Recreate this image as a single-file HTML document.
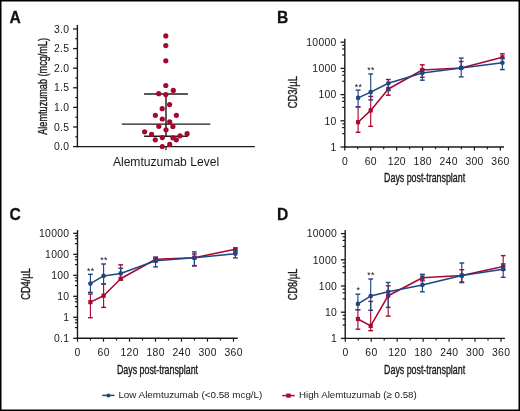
<!DOCTYPE html>
<html><head><meta charset="utf-8"><style>html,body{margin:0;padding:0;background:#fff;overflow:hidden}svg{display:block;will-change:transform}text{font-family:"Liberation Sans",sans-serif}</style></head>
<body><svg width="520" height="411" viewBox="0 0 520 411" font-family="Liberation Sans, sans-serif"><rect x="0" y="0" width="520" height="411" fill="#000"/>
<rect x="1.5" y="1.5" width="517" height="408" fill="#fff"/>
<text transform="translate(9.60,22.70) scale(0.95,1)" font-size="16.5" font-weight="700" text-anchor="start" fill="#111" stroke="#111" stroke-width="0.25">A</text>
<line x1="77.40" y1="25.00" x2="77.40" y2="147.25" stroke="#1a1a1a" stroke-width="1.4"/>
<line x1="73.10" y1="146.60" x2="77.40" y2="146.60" stroke="#1a1a1a" stroke-width="1.3"/>
<text transform="translate(69.30,150.30)" font-size="10.4" font-weight="400" text-anchor="end" fill="#1a1a1a" letter-spacing="0.3">0.0</text>
<line x1="75.20" y1="136.79" x2="77.40" y2="136.79" stroke="#1a1a1a" stroke-width="1.1"/>
<line x1="73.10" y1="126.99" x2="77.40" y2="126.99" stroke="#1a1a1a" stroke-width="1.3"/>
<text transform="translate(69.30,130.69)" font-size="10.4" font-weight="400" text-anchor="end" fill="#1a1a1a" letter-spacing="0.3">0.5</text>
<line x1="75.20" y1="117.19" x2="77.40" y2="117.19" stroke="#1a1a1a" stroke-width="1.1"/>
<line x1="73.10" y1="107.38" x2="77.40" y2="107.38" stroke="#1a1a1a" stroke-width="1.3"/>
<text transform="translate(69.30,111.08)" font-size="10.4" font-weight="400" text-anchor="end" fill="#1a1a1a" letter-spacing="0.3">1.0</text>
<line x1="75.20" y1="97.57" x2="77.40" y2="97.57" stroke="#1a1a1a" stroke-width="1.1"/>
<line x1="73.10" y1="87.77" x2="77.40" y2="87.77" stroke="#1a1a1a" stroke-width="1.3"/>
<text transform="translate(69.30,91.47)" font-size="10.4" font-weight="400" text-anchor="end" fill="#1a1a1a" letter-spacing="0.3">1.5</text>
<line x1="75.20" y1="77.97" x2="77.40" y2="77.97" stroke="#1a1a1a" stroke-width="1.1"/>
<line x1="73.10" y1="68.16" x2="77.40" y2="68.16" stroke="#1a1a1a" stroke-width="1.3"/>
<text transform="translate(69.30,71.86)" font-size="10.4" font-weight="400" text-anchor="end" fill="#1a1a1a" letter-spacing="0.3">2.0</text>
<line x1="75.20" y1="58.35" x2="77.40" y2="58.35" stroke="#1a1a1a" stroke-width="1.1"/>
<line x1="73.10" y1="48.55" x2="77.40" y2="48.55" stroke="#1a1a1a" stroke-width="1.3"/>
<text transform="translate(69.30,52.25)" font-size="10.4" font-weight="400" text-anchor="end" fill="#1a1a1a" letter-spacing="0.3">2.5</text>
<line x1="75.20" y1="38.75" x2="77.40" y2="38.75" stroke="#1a1a1a" stroke-width="1.1"/>
<line x1="73.10" y1="28.94" x2="77.40" y2="28.94" stroke="#1a1a1a" stroke-width="1.3"/>
<text transform="translate(69.30,32.64)" font-size="10.4" font-weight="400" text-anchor="end" fill="#1a1a1a" letter-spacing="0.3">3.0</text>
<line x1="76.70" y1="146.60" x2="254.80" y2="146.60" stroke="#1a1a1a" stroke-width="1.4"/>
<line x1="166.00" y1="146.60" x2="166.00" y2="150.20" stroke="#1a1a1a" stroke-width="1.2"/>
<text transform="translate(46.60,86.35) rotate(-90) scale(0.748,1)" font-size="12.2" font-weight="400" text-anchor="middle" fill="#1a1a1a" stroke="#1a1a1a" stroke-width="0.36">Alemtuzumab (mcg/mL)</text>
<text transform="translate(166.00,166.40)" font-size="12.1" font-weight="400" text-anchor="middle" fill="#1a1a1a">Alemtuzumab Level</text>
<line x1="166.00" y1="93.90" x2="166.00" y2="136.20" stroke="#1e1e1e" stroke-width="1.45"/>
<line x1="144.10" y1="93.90" x2="187.90" y2="93.90" stroke="#1e1e1e" stroke-width="1.45"/>
<line x1="144.10" y1="136.20" x2="187.90" y2="136.20" stroke="#1e1e1e" stroke-width="1.45"/>
<line x1="121.80" y1="124.10" x2="210.30" y2="124.10" stroke="#1a1a1a" stroke-width="1.45"/>
<circle cx="165.80" cy="35.90" r="2.6" fill="#a5082d"/>
<circle cx="165.80" cy="45.60" r="2.6" fill="#a5082d"/>
<circle cx="165.80" cy="60.80" r="2.6" fill="#a5082d"/>
<circle cx="165.80" cy="85.50" r="2.6" fill="#a5082d"/>
<circle cx="173.30" cy="90.40" r="2.6" fill="#a5082d"/>
<circle cx="158.70" cy="93.70" r="2.6" fill="#a5082d"/>
<circle cx="165.80" cy="94.60" r="2.6" fill="#a5082d"/>
<circle cx="169.60" cy="104.60" r="2.6" fill="#a5082d"/>
<circle cx="162.20" cy="108.70" r="2.6" fill="#a5082d"/>
<circle cx="155.40" cy="115.30" r="2.6" fill="#a5082d"/>
<circle cx="176.40" cy="115.30" r="2.6" fill="#a5082d"/>
<circle cx="162.30" cy="119.00" r="2.6" fill="#a5082d"/>
<circle cx="169.70" cy="121.90" r="2.6" fill="#a5082d"/>
<circle cx="158.80" cy="126.30" r="2.6" fill="#a5082d"/>
<circle cx="172.90" cy="126.50" r="2.6" fill="#a5082d"/>
<circle cx="166.00" cy="129.80" r="2.6" fill="#a5082d"/>
<circle cx="144.60" cy="131.80" r="2.6" fill="#a5082d"/>
<circle cx="151.60" cy="134.40" r="2.6" fill="#a5082d"/>
<circle cx="187.10" cy="133.70" r="2.6" fill="#a5082d"/>
<circle cx="180.10" cy="135.80" r="2.6" fill="#a5082d"/>
<circle cx="162.30" cy="137.60" r="2.6" fill="#a5082d"/>
<circle cx="172.90" cy="137.80" r="2.6" fill="#a5082d"/>
<circle cx="155.30" cy="139.80" r="2.6" fill="#a5082d"/>
<circle cx="176.30" cy="139.80" r="2.6" fill="#a5082d"/>
<circle cx="169.70" cy="144.40" r="2.6" fill="#a5082d"/>
<circle cx="162.30" cy="146.50" r="2.6" fill="#a5082d"/>
<text transform="translate(277.10,22.70) scale(0.95,1)" font-size="16.5" font-weight="700" text-anchor="start" fill="#111" stroke="#111" stroke-width="0.25">B</text>
<line x1="344.80" y1="38.70" x2="344.80" y2="147.65" stroke="#1a1a1a" stroke-width="1.4"/>
<line x1="340.50" y1="147.00" x2="344.80" y2="147.00" stroke="#1a1a1a" stroke-width="1.3"/>
<text transform="translate(336.70,150.70)" font-size="10.4" font-weight="400" text-anchor="end" fill="#1a1a1a" letter-spacing="0.3">1</text>
<line x1="340.50" y1="120.80" x2="344.80" y2="120.80" stroke="#1a1a1a" stroke-width="1.3"/>
<text transform="translate(336.70,124.50)" font-size="10.4" font-weight="400" text-anchor="end" fill="#1a1a1a" letter-spacing="0.3">10</text>
<line x1="342.20" y1="123.94" x2="344.80" y2="123.94" stroke="#1a1a1a" stroke-width="1.2"/>
<line x1="342.20" y1="127.61" x2="344.80" y2="127.61" stroke="#1a1a1a" stroke-width="1.2"/>
<line x1="342.20" y1="133.64" x2="344.80" y2="133.64" stroke="#1a1a1a" stroke-width="1.2"/>
<line x1="340.50" y1="94.60" x2="344.80" y2="94.60" stroke="#1a1a1a" stroke-width="1.3"/>
<text transform="translate(336.70,98.30)" font-size="10.4" font-weight="400" text-anchor="end" fill="#1a1a1a" letter-spacing="0.3">100</text>
<line x1="342.20" y1="97.74" x2="344.80" y2="97.74" stroke="#1a1a1a" stroke-width="1.2"/>
<line x1="342.20" y1="101.41" x2="344.80" y2="101.41" stroke="#1a1a1a" stroke-width="1.2"/>
<line x1="342.20" y1="107.44" x2="344.80" y2="107.44" stroke="#1a1a1a" stroke-width="1.2"/>
<line x1="340.50" y1="68.40" x2="344.80" y2="68.40" stroke="#1a1a1a" stroke-width="1.3"/>
<text transform="translate(336.70,72.10)" font-size="10.4" font-weight="400" text-anchor="end" fill="#1a1a1a" letter-spacing="0.3">1000</text>
<line x1="342.20" y1="71.54" x2="344.80" y2="71.54" stroke="#1a1a1a" stroke-width="1.2"/>
<line x1="342.20" y1="75.21" x2="344.80" y2="75.21" stroke="#1a1a1a" stroke-width="1.2"/>
<line x1="342.20" y1="81.24" x2="344.80" y2="81.24" stroke="#1a1a1a" stroke-width="1.2"/>
<line x1="340.50" y1="42.20" x2="344.80" y2="42.20" stroke="#1a1a1a" stroke-width="1.3"/>
<text transform="translate(336.70,45.90)" font-size="10.4" font-weight="400" text-anchor="end" fill="#1a1a1a" letter-spacing="0.3">10000</text>
<line x1="342.20" y1="45.34" x2="344.80" y2="45.34" stroke="#1a1a1a" stroke-width="1.2"/>
<line x1="342.20" y1="49.01" x2="344.80" y2="49.01" stroke="#1a1a1a" stroke-width="1.2"/>
<line x1="342.20" y1="55.04" x2="344.80" y2="55.04" stroke="#1a1a1a" stroke-width="1.2"/>
<line x1="344.10" y1="147.00" x2="504.00" y2="147.00" stroke="#1a1a1a" stroke-width="1.4"/>
<line x1="344.80" y1="147.00" x2="344.80" y2="150.40" stroke="#1a1a1a" stroke-width="1.2"/>
<text transform="translate(344.95,164.50)" font-size="10.4" font-weight="400" text-anchor="middle" fill="#1a1a1a" letter-spacing="0.3">0</text>
<line x1="357.76" y1="147.00" x2="357.76" y2="149.20" stroke="#1a1a1a" stroke-width="1.2"/>
<line x1="370.72" y1="147.00" x2="370.72" y2="150.40" stroke="#1a1a1a" stroke-width="1.2"/>
<text transform="translate(370.87,164.50)" font-size="10.4" font-weight="400" text-anchor="middle" fill="#1a1a1a" letter-spacing="0.3">60</text>
<line x1="383.68" y1="147.00" x2="383.68" y2="149.20" stroke="#1a1a1a" stroke-width="1.2"/>
<line x1="396.64" y1="147.00" x2="396.64" y2="150.40" stroke="#1a1a1a" stroke-width="1.2"/>
<text transform="translate(396.79,164.50)" font-size="10.4" font-weight="400" text-anchor="middle" fill="#1a1a1a" letter-spacing="0.3">120</text>
<line x1="409.60" y1="147.00" x2="409.60" y2="149.20" stroke="#1a1a1a" stroke-width="1.2"/>
<line x1="422.56" y1="147.00" x2="422.56" y2="150.40" stroke="#1a1a1a" stroke-width="1.2"/>
<text transform="translate(422.71,164.50)" font-size="10.4" font-weight="400" text-anchor="middle" fill="#1a1a1a" letter-spacing="0.3">180</text>
<line x1="435.52" y1="147.00" x2="435.52" y2="149.20" stroke="#1a1a1a" stroke-width="1.2"/>
<line x1="448.48" y1="147.00" x2="448.48" y2="150.40" stroke="#1a1a1a" stroke-width="1.2"/>
<text transform="translate(448.63,164.50)" font-size="10.4" font-weight="400" text-anchor="middle" fill="#1a1a1a" letter-spacing="0.3">240</text>
<line x1="461.44" y1="147.00" x2="461.44" y2="149.20" stroke="#1a1a1a" stroke-width="1.2"/>
<line x1="474.40" y1="147.00" x2="474.40" y2="150.40" stroke="#1a1a1a" stroke-width="1.2"/>
<text transform="translate(474.55,164.50)" font-size="10.4" font-weight="400" text-anchor="middle" fill="#1a1a1a" letter-spacing="0.3">300</text>
<line x1="487.36" y1="147.00" x2="487.36" y2="149.20" stroke="#1a1a1a" stroke-width="1.2"/>
<line x1="500.32" y1="147.00" x2="500.32" y2="150.40" stroke="#1a1a1a" stroke-width="1.2"/>
<text transform="translate(500.47,164.50)" font-size="10.4" font-weight="400" text-anchor="middle" fill="#1a1a1a" letter-spacing="0.3">360</text>
<text transform="translate(296.90,92.20) rotate(-90) scale(0.775,1)" font-size="12.2" font-weight="400" text-anchor="middle" fill="#1a1a1a" stroke="#1a1a1a" stroke-width="0.36">CD3/µL</text>
<text transform="translate(424.60,181.50) scale(0.725,1)" font-size="12.2" font-weight="400" text-anchor="middle" fill="#1a1a1a" stroke="#1a1a1a" stroke-width="0.36">Days post-transplant</text>
<line x1="358.10" y1="106.90" x2="358.10" y2="132.30" stroke="#a90832" stroke-width="1.15"/>
<line x1="355.70" y1="106.90" x2="360.50" y2="106.90" stroke="#a90832" stroke-width="1.4"/>
<line x1="355.70" y1="132.30" x2="360.50" y2="132.30" stroke="#a90832" stroke-width="1.4"/>
<line x1="370.70" y1="96.40" x2="370.70" y2="126.30" stroke="#a90832" stroke-width="1.15"/>
<line x1="368.30" y1="96.40" x2="373.10" y2="96.40" stroke="#a90832" stroke-width="1.4"/>
<line x1="368.30" y1="126.30" x2="373.10" y2="126.30" stroke="#a90832" stroke-width="1.4"/>
<line x1="388.30" y1="79.50" x2="388.30" y2="95.20" stroke="#a90832" stroke-width="1.15"/>
<line x1="385.90" y1="79.50" x2="390.70" y2="79.50" stroke="#a90832" stroke-width="1.4"/>
<line x1="385.90" y1="95.20" x2="390.70" y2="95.20" stroke="#a90832" stroke-width="1.4"/>
<line x1="422.30" y1="64.80" x2="422.30" y2="77.30" stroke="#a90832" stroke-width="1.15"/>
<line x1="419.90" y1="64.80" x2="424.70" y2="64.80" stroke="#a90832" stroke-width="1.4"/>
<line x1="419.90" y1="77.30" x2="424.70" y2="77.30" stroke="#a90832" stroke-width="1.4"/>
<line x1="461.20" y1="61.50" x2="461.20" y2="67.90" stroke="#a90832" stroke-width="1.15"/>
<line x1="458.80" y1="61.50" x2="463.60" y2="61.50" stroke="#a90832" stroke-width="1.4"/>
<line x1="502.40" y1="53.80" x2="502.40" y2="57.30" stroke="#a90832" stroke-width="1.15"/>
<line x1="500.00" y1="53.80" x2="504.80" y2="53.80" stroke="#a90832" stroke-width="1.4"/>
<path d="M358.10,122.20 L370.70,110.40 L388.30,89.00 L422.30,70.00 L461.20,67.90 L502.40,57.30" fill="none" stroke="#a90832" stroke-width="1.55" stroke-linejoin="round"/>
<rect x="356.00" y="120.10" width="4.2" height="4.2" fill="#a90832"/>
<rect x="368.60" y="108.30" width="4.2" height="4.2" fill="#a90832"/>
<rect x="386.20" y="86.90" width="4.2" height="4.2" fill="#a90832"/>
<rect x="420.20" y="67.90" width="4.2" height="4.2" fill="#a90832"/>
<rect x="459.10" y="65.80" width="4.2" height="4.2" fill="#a90832"/>
<rect x="500.30" y="55.20" width="4.2" height="4.2" fill="#a90832"/>
<line x1="358.10" y1="90.10" x2="358.10" y2="106.90" stroke="#1f4682" stroke-width="1.15"/>
<line x1="355.70" y1="90.10" x2="360.50" y2="90.10" stroke="#1f4682" stroke-width="1.4"/>
<line x1="355.70" y1="106.90" x2="360.50" y2="106.90" stroke="#1f4682" stroke-width="1.4"/>
<line x1="370.70" y1="74.00" x2="370.70" y2="99.90" stroke="#1f4682" stroke-width="1.15"/>
<line x1="368.30" y1="74.00" x2="373.10" y2="74.00" stroke="#1f4682" stroke-width="1.4"/>
<line x1="368.30" y1="99.90" x2="373.10" y2="99.90" stroke="#1f4682" stroke-width="1.4"/>
<line x1="388.30" y1="83.30" x2="388.30" y2="90.50" stroke="#1f4682" stroke-width="1.15"/>
<line x1="385.90" y1="90.50" x2="390.70" y2="90.50" stroke="#1f4682" stroke-width="1.4"/>
<line x1="422.30" y1="69.40" x2="422.30" y2="80.20" stroke="#1f4682" stroke-width="1.15"/>
<line x1="419.90" y1="69.40" x2="424.70" y2="69.40" stroke="#1f4682" stroke-width="1.4"/>
<line x1="419.90" y1="80.20" x2="424.70" y2="80.20" stroke="#1f4682" stroke-width="1.4"/>
<line x1="461.20" y1="58.10" x2="461.20" y2="76.90" stroke="#1f4682" stroke-width="1.15"/>
<line x1="458.80" y1="58.10" x2="463.60" y2="58.10" stroke="#1f4682" stroke-width="1.4"/>
<line x1="458.80" y1="76.90" x2="463.60" y2="76.90" stroke="#1f4682" stroke-width="1.4"/>
<line x1="502.40" y1="58.40" x2="502.40" y2="69.60" stroke="#1f4682" stroke-width="1.15"/>
<line x1="500.00" y1="58.40" x2="504.80" y2="58.40" stroke="#1f4682" stroke-width="1.4"/>
<line x1="500.00" y1="69.60" x2="504.80" y2="69.60" stroke="#1f4682" stroke-width="1.4"/>
<path d="M358.10,97.90 L370.70,92.10 L388.30,83.30 L422.30,73.00 L461.20,67.90 L502.40,62.80" fill="none" stroke="#1f4682" stroke-width="1.55" stroke-linejoin="round"/>
<circle cx="358.10" cy="97.90" r="2.3" fill="#1f4682"/>
<circle cx="370.70" cy="92.10" r="2.3" fill="#1f4682"/>
<circle cx="388.30" cy="83.30" r="2.3" fill="#1f4682"/>
<circle cx="422.30" cy="73.00" r="2.3" fill="#1f4682"/>
<circle cx="461.20" cy="67.90" r="2.3" fill="#1f4682"/>
<circle cx="502.40" cy="62.80" r="2.3" fill="#1f4682"/>
<text transform="translate(356.45,89.50)" font-size="8.8" font-weight="400" text-anchor="middle" fill="#111">*</text>
<text transform="translate(360.15,89.50)" font-size="8.8" font-weight="400" text-anchor="middle" fill="#111">*</text>
<text transform="translate(369.05,73.10)" font-size="8.8" font-weight="400" text-anchor="middle" fill="#111">*</text>
<text transform="translate(372.75,73.10)" font-size="8.8" font-weight="400" text-anchor="middle" fill="#111">*</text>
<text transform="translate(9.60,220.20) scale(0.95,1)" font-size="16.5" font-weight="700" text-anchor="start" fill="#111" stroke="#111" stroke-width="0.25">C</text>
<line x1="77.50" y1="230.00" x2="77.50" y2="338.95" stroke="#1a1a1a" stroke-width="1.4"/>
<line x1="73.20" y1="338.30" x2="77.50" y2="338.30" stroke="#1a1a1a" stroke-width="1.3"/>
<text transform="translate(69.40,342.00)" font-size="10.4" font-weight="400" text-anchor="end" fill="#1a1a1a" letter-spacing="0.3">0.1</text>
<line x1="73.20" y1="317.30" x2="77.50" y2="317.30" stroke="#1a1a1a" stroke-width="1.3"/>
<text transform="translate(69.40,321.00)" font-size="10.4" font-weight="400" text-anchor="end" fill="#1a1a1a" letter-spacing="0.3">1</text>
<line x1="74.90" y1="319.82" x2="77.50" y2="319.82" stroke="#1a1a1a" stroke-width="1.2"/>
<line x1="74.90" y1="322.76" x2="77.50" y2="322.76" stroke="#1a1a1a" stroke-width="1.2"/>
<line x1="74.90" y1="327.59" x2="77.50" y2="327.59" stroke="#1a1a1a" stroke-width="1.2"/>
<line x1="73.20" y1="296.30" x2="77.50" y2="296.30" stroke="#1a1a1a" stroke-width="1.3"/>
<text transform="translate(69.40,300.00)" font-size="10.4" font-weight="400" text-anchor="end" fill="#1a1a1a" letter-spacing="0.3">10</text>
<line x1="74.90" y1="298.82" x2="77.50" y2="298.82" stroke="#1a1a1a" stroke-width="1.2"/>
<line x1="74.90" y1="301.76" x2="77.50" y2="301.76" stroke="#1a1a1a" stroke-width="1.2"/>
<line x1="74.90" y1="306.59" x2="77.50" y2="306.59" stroke="#1a1a1a" stroke-width="1.2"/>
<line x1="73.20" y1="275.30" x2="77.50" y2="275.30" stroke="#1a1a1a" stroke-width="1.3"/>
<text transform="translate(69.40,279.00)" font-size="10.4" font-weight="400" text-anchor="end" fill="#1a1a1a" letter-spacing="0.3">100</text>
<line x1="74.90" y1="277.82" x2="77.50" y2="277.82" stroke="#1a1a1a" stroke-width="1.2"/>
<line x1="74.90" y1="280.76" x2="77.50" y2="280.76" stroke="#1a1a1a" stroke-width="1.2"/>
<line x1="74.90" y1="285.59" x2="77.50" y2="285.59" stroke="#1a1a1a" stroke-width="1.2"/>
<line x1="73.20" y1="254.30" x2="77.50" y2="254.30" stroke="#1a1a1a" stroke-width="1.3"/>
<text transform="translate(69.40,258.00)" font-size="10.4" font-weight="400" text-anchor="end" fill="#1a1a1a" letter-spacing="0.3">1000</text>
<line x1="74.90" y1="256.82" x2="77.50" y2="256.82" stroke="#1a1a1a" stroke-width="1.2"/>
<line x1="74.90" y1="259.76" x2="77.50" y2="259.76" stroke="#1a1a1a" stroke-width="1.2"/>
<line x1="74.90" y1="264.59" x2="77.50" y2="264.59" stroke="#1a1a1a" stroke-width="1.2"/>
<line x1="73.20" y1="233.30" x2="77.50" y2="233.30" stroke="#1a1a1a" stroke-width="1.3"/>
<text transform="translate(69.40,237.00)" font-size="10.4" font-weight="400" text-anchor="end" fill="#1a1a1a" letter-spacing="0.3">10000</text>
<line x1="74.90" y1="235.82" x2="77.50" y2="235.82" stroke="#1a1a1a" stroke-width="1.2"/>
<line x1="74.90" y1="238.76" x2="77.50" y2="238.76" stroke="#1a1a1a" stroke-width="1.2"/>
<line x1="74.90" y1="243.59" x2="77.50" y2="243.59" stroke="#1a1a1a" stroke-width="1.2"/>
<line x1="76.80" y1="338.30" x2="237.70" y2="338.30" stroke="#1a1a1a" stroke-width="1.4"/>
<line x1="77.50" y1="338.30" x2="77.50" y2="341.70" stroke="#1a1a1a" stroke-width="1.2"/>
<text transform="translate(77.65,355.90)" font-size="10.4" font-weight="400" text-anchor="middle" fill="#1a1a1a" letter-spacing="0.3">0</text>
<line x1="90.50" y1="338.30" x2="90.50" y2="340.50" stroke="#1a1a1a" stroke-width="1.2"/>
<line x1="103.50" y1="338.30" x2="103.50" y2="341.70" stroke="#1a1a1a" stroke-width="1.2"/>
<text transform="translate(103.65,355.90)" font-size="10.4" font-weight="400" text-anchor="middle" fill="#1a1a1a" letter-spacing="0.3">60</text>
<line x1="116.50" y1="338.30" x2="116.50" y2="340.50" stroke="#1a1a1a" stroke-width="1.2"/>
<line x1="129.50" y1="338.30" x2="129.50" y2="341.70" stroke="#1a1a1a" stroke-width="1.2"/>
<text transform="translate(129.65,355.90)" font-size="10.4" font-weight="400" text-anchor="middle" fill="#1a1a1a" letter-spacing="0.3">120</text>
<line x1="142.50" y1="338.30" x2="142.50" y2="340.50" stroke="#1a1a1a" stroke-width="1.2"/>
<line x1="155.49" y1="338.30" x2="155.49" y2="341.70" stroke="#1a1a1a" stroke-width="1.2"/>
<text transform="translate(155.64,355.90)" font-size="10.4" font-weight="400" text-anchor="middle" fill="#1a1a1a" letter-spacing="0.3">180</text>
<line x1="168.49" y1="338.30" x2="168.49" y2="340.50" stroke="#1a1a1a" stroke-width="1.2"/>
<line x1="181.49" y1="338.30" x2="181.49" y2="341.70" stroke="#1a1a1a" stroke-width="1.2"/>
<text transform="translate(181.64,355.90)" font-size="10.4" font-weight="400" text-anchor="middle" fill="#1a1a1a" letter-spacing="0.3">240</text>
<line x1="194.49" y1="338.30" x2="194.49" y2="340.50" stroke="#1a1a1a" stroke-width="1.2"/>
<line x1="207.49" y1="338.30" x2="207.49" y2="341.70" stroke="#1a1a1a" stroke-width="1.2"/>
<text transform="translate(207.64,355.90)" font-size="10.4" font-weight="400" text-anchor="middle" fill="#1a1a1a" letter-spacing="0.3">300</text>
<line x1="220.49" y1="338.30" x2="220.49" y2="340.50" stroke="#1a1a1a" stroke-width="1.2"/>
<line x1="233.49" y1="338.30" x2="233.49" y2="341.70" stroke="#1a1a1a" stroke-width="1.2"/>
<text transform="translate(233.64,355.90)" font-size="10.4" font-weight="400" text-anchor="middle" fill="#1a1a1a" letter-spacing="0.3">360</text>
<text transform="translate(29.50,284.00) rotate(-90) scale(0.76,1)" font-size="12.2" font-weight="400" text-anchor="middle" fill="#1a1a1a" stroke="#1a1a1a" stroke-width="0.36">CD4/µL</text>
<text transform="translate(157.50,374.40) scale(0.725,1)" font-size="12.2" font-weight="400" text-anchor="middle" fill="#1a1a1a" stroke="#1a1a1a" stroke-width="0.36">Days post-transplant</text>
<line x1="90.40" y1="294.00" x2="90.40" y2="317.70" stroke="#a90832" stroke-width="1.15"/>
<line x1="88.00" y1="294.00" x2="92.80" y2="294.00" stroke="#a90832" stroke-width="1.4"/>
<line x1="88.00" y1="317.70" x2="92.80" y2="317.70" stroke="#a90832" stroke-width="1.4"/>
<line x1="103.60" y1="284.00" x2="103.60" y2="307.40" stroke="#a90832" stroke-width="1.15"/>
<line x1="101.20" y1="284.00" x2="106.00" y2="284.00" stroke="#a90832" stroke-width="1.4"/>
<line x1="101.20" y1="307.40" x2="106.00" y2="307.40" stroke="#a90832" stroke-width="1.4"/>
<line x1="120.70" y1="264.80" x2="120.70" y2="280.00" stroke="#a90832" stroke-width="1.15"/>
<line x1="118.30" y1="264.80" x2="123.10" y2="264.80" stroke="#a90832" stroke-width="1.4"/>
<line x1="118.30" y1="280.00" x2="123.10" y2="280.00" stroke="#a90832" stroke-width="1.4"/>
<line x1="155.60" y1="258.30" x2="155.60" y2="262.00" stroke="#a90832" stroke-width="1.15"/>
<line x1="153.20" y1="258.30" x2="158.00" y2="258.30" stroke="#a90832" stroke-width="1.4"/>
<line x1="153.20" y1="262.00" x2="158.00" y2="262.00" stroke="#a90832" stroke-width="1.4"/>
<line x1="194.40" y1="254.00" x2="194.40" y2="266.00" stroke="#a90832" stroke-width="1.15"/>
<line x1="192.00" y1="254.00" x2="196.80" y2="254.00" stroke="#a90832" stroke-width="1.4"/>
<line x1="192.00" y1="266.00" x2="196.80" y2="266.00" stroke="#a90832" stroke-width="1.4"/>
<line x1="235.40" y1="248.10" x2="235.40" y2="252.00" stroke="#a90832" stroke-width="1.15"/>
<line x1="233.00" y1="248.10" x2="237.80" y2="248.10" stroke="#a90832" stroke-width="1.4"/>
<line x1="233.00" y1="252.00" x2="237.80" y2="252.00" stroke="#a90832" stroke-width="1.4"/>
<path d="M90.40,302.10 L103.60,295.70 L120.70,278.80 L155.60,259.20 L194.40,257.70 L235.40,249.20" fill="none" stroke="#a90832" stroke-width="1.55" stroke-linejoin="round"/>
<rect x="88.30" y="300.00" width="4.2" height="4.2" fill="#a90832"/>
<rect x="101.50" y="293.60" width="4.2" height="4.2" fill="#a90832"/>
<rect x="118.60" y="276.70" width="4.2" height="4.2" fill="#a90832"/>
<rect x="153.50" y="257.10" width="4.2" height="4.2" fill="#a90832"/>
<rect x="192.30" y="255.60" width="4.2" height="4.2" fill="#a90832"/>
<rect x="233.30" y="247.10" width="4.2" height="4.2" fill="#a90832"/>
<line x1="90.40" y1="274.30" x2="90.40" y2="292.40" stroke="#1f4682" stroke-width="1.15"/>
<line x1="88.00" y1="274.30" x2="92.80" y2="274.30" stroke="#1f4682" stroke-width="1.4"/>
<line x1="88.00" y1="292.40" x2="92.80" y2="292.40" stroke="#1f4682" stroke-width="1.4"/>
<line x1="103.60" y1="264.00" x2="103.60" y2="284.00" stroke="#1f4682" stroke-width="1.15"/>
<line x1="101.20" y1="264.00" x2="106.00" y2="264.00" stroke="#1f4682" stroke-width="1.4"/>
<line x1="101.20" y1="284.00" x2="106.00" y2="284.00" stroke="#1f4682" stroke-width="1.4"/>
<line x1="120.70" y1="268.30" x2="120.70" y2="273.40" stroke="#1f4682" stroke-width="1.15"/>
<line x1="118.30" y1="268.30" x2="123.10" y2="268.30" stroke="#1f4682" stroke-width="1.4"/>
<line x1="155.60" y1="257.00" x2="155.60" y2="266.90" stroke="#1f4682" stroke-width="1.15"/>
<line x1="153.20" y1="257.00" x2="158.00" y2="257.00" stroke="#1f4682" stroke-width="1.4"/>
<line x1="153.20" y1="266.90" x2="158.00" y2="266.90" stroke="#1f4682" stroke-width="1.4"/>
<line x1="194.40" y1="251.90" x2="194.40" y2="265.60" stroke="#1f4682" stroke-width="1.15"/>
<line x1="192.00" y1="251.90" x2="196.80" y2="251.90" stroke="#1f4682" stroke-width="1.4"/>
<line x1="192.00" y1="265.60" x2="196.80" y2="265.60" stroke="#1f4682" stroke-width="1.4"/>
<line x1="235.40" y1="250.60" x2="235.40" y2="257.90" stroke="#1f4682" stroke-width="1.15"/>
<line x1="233.00" y1="250.60" x2="237.80" y2="250.60" stroke="#1f4682" stroke-width="1.4"/>
<line x1="233.00" y1="257.90" x2="237.80" y2="257.90" stroke="#1f4682" stroke-width="1.4"/>
<path d="M90.40,283.60 L103.60,275.90 L120.70,273.40 L155.60,260.80 L194.40,257.70 L235.40,253.80" fill="none" stroke="#1f4682" stroke-width="1.55" stroke-linejoin="round"/>
<circle cx="90.40" cy="283.60" r="2.3" fill="#1f4682"/>
<circle cx="103.60" cy="275.90" r="2.3" fill="#1f4682"/>
<circle cx="120.70" cy="273.40" r="2.3" fill="#1f4682"/>
<circle cx="155.60" cy="260.80" r="2.3" fill="#1f4682"/>
<circle cx="194.40" cy="257.70" r="2.3" fill="#1f4682"/>
<circle cx="235.40" cy="253.80" r="2.3" fill="#1f4682"/>
<text transform="translate(88.75,273.60)" font-size="8.8" font-weight="400" text-anchor="middle" fill="#111">*</text>
<text transform="translate(92.45,273.60)" font-size="8.8" font-weight="400" text-anchor="middle" fill="#111">*</text>
<text transform="translate(101.95,263.30)" font-size="8.8" font-weight="400" text-anchor="middle" fill="#111">*</text>
<text transform="translate(105.65,263.30)" font-size="8.8" font-weight="400" text-anchor="middle" fill="#111">*</text>
<text transform="translate(277.10,220.20) scale(0.95,1)" font-size="16.5" font-weight="700" text-anchor="start" fill="#111" stroke="#111" stroke-width="0.25">D</text>
<line x1="345.20" y1="230.00" x2="345.20" y2="339.05" stroke="#1a1a1a" stroke-width="1.4"/>
<line x1="340.90" y1="338.40" x2="345.20" y2="338.40" stroke="#1a1a1a" stroke-width="1.3"/>
<text transform="translate(337.10,342.10)" font-size="10.4" font-weight="400" text-anchor="end" fill="#1a1a1a" letter-spacing="0.3">1</text>
<line x1="340.90" y1="312.20" x2="345.20" y2="312.20" stroke="#1a1a1a" stroke-width="1.3"/>
<text transform="translate(337.10,315.90)" font-size="10.4" font-weight="400" text-anchor="end" fill="#1a1a1a" letter-spacing="0.3">10</text>
<line x1="342.60" y1="315.34" x2="345.20" y2="315.34" stroke="#1a1a1a" stroke-width="1.2"/>
<line x1="342.60" y1="319.01" x2="345.20" y2="319.01" stroke="#1a1a1a" stroke-width="1.2"/>
<line x1="342.60" y1="325.04" x2="345.20" y2="325.04" stroke="#1a1a1a" stroke-width="1.2"/>
<line x1="340.90" y1="286.00" x2="345.20" y2="286.00" stroke="#1a1a1a" stroke-width="1.3"/>
<text transform="translate(337.10,289.70)" font-size="10.4" font-weight="400" text-anchor="end" fill="#1a1a1a" letter-spacing="0.3">100</text>
<line x1="342.60" y1="289.14" x2="345.20" y2="289.14" stroke="#1a1a1a" stroke-width="1.2"/>
<line x1="342.60" y1="292.81" x2="345.20" y2="292.81" stroke="#1a1a1a" stroke-width="1.2"/>
<line x1="342.60" y1="298.84" x2="345.20" y2="298.84" stroke="#1a1a1a" stroke-width="1.2"/>
<line x1="340.90" y1="259.80" x2="345.20" y2="259.80" stroke="#1a1a1a" stroke-width="1.3"/>
<text transform="translate(337.10,263.50)" font-size="10.4" font-weight="400" text-anchor="end" fill="#1a1a1a" letter-spacing="0.3">1000</text>
<line x1="342.60" y1="262.94" x2="345.20" y2="262.94" stroke="#1a1a1a" stroke-width="1.2"/>
<line x1="342.60" y1="266.61" x2="345.20" y2="266.61" stroke="#1a1a1a" stroke-width="1.2"/>
<line x1="342.60" y1="272.64" x2="345.20" y2="272.64" stroke="#1a1a1a" stroke-width="1.2"/>
<line x1="340.90" y1="233.60" x2="345.20" y2="233.60" stroke="#1a1a1a" stroke-width="1.3"/>
<text transform="translate(337.10,237.30)" font-size="10.4" font-weight="400" text-anchor="end" fill="#1a1a1a" letter-spacing="0.3">10000</text>
<line x1="342.60" y1="236.74" x2="345.20" y2="236.74" stroke="#1a1a1a" stroke-width="1.2"/>
<line x1="342.60" y1="240.41" x2="345.20" y2="240.41" stroke="#1a1a1a" stroke-width="1.2"/>
<line x1="342.60" y1="246.44" x2="345.20" y2="246.44" stroke="#1a1a1a" stroke-width="1.2"/>
<line x1="344.50" y1="338.40" x2="505.00" y2="338.40" stroke="#1a1a1a" stroke-width="1.4"/>
<line x1="345.30" y1="338.40" x2="345.30" y2="341.80" stroke="#1a1a1a" stroke-width="1.2"/>
<text transform="translate(345.45,356.00)" font-size="10.4" font-weight="400" text-anchor="middle" fill="#1a1a1a" letter-spacing="0.3">0</text>
<line x1="358.28" y1="338.40" x2="358.28" y2="340.60" stroke="#1a1a1a" stroke-width="1.2"/>
<line x1="371.25" y1="338.40" x2="371.25" y2="341.80" stroke="#1a1a1a" stroke-width="1.2"/>
<text transform="translate(371.40,356.00)" font-size="10.4" font-weight="400" text-anchor="middle" fill="#1a1a1a" letter-spacing="0.3">60</text>
<line x1="384.23" y1="338.40" x2="384.23" y2="340.60" stroke="#1a1a1a" stroke-width="1.2"/>
<line x1="397.20" y1="338.40" x2="397.20" y2="341.80" stroke="#1a1a1a" stroke-width="1.2"/>
<text transform="translate(397.35,356.00)" font-size="10.4" font-weight="400" text-anchor="middle" fill="#1a1a1a" letter-spacing="0.3">120</text>
<line x1="410.18" y1="338.40" x2="410.18" y2="340.60" stroke="#1a1a1a" stroke-width="1.2"/>
<line x1="423.15" y1="338.40" x2="423.15" y2="341.80" stroke="#1a1a1a" stroke-width="1.2"/>
<text transform="translate(423.30,356.00)" font-size="10.4" font-weight="400" text-anchor="middle" fill="#1a1a1a" letter-spacing="0.3">180</text>
<line x1="436.12" y1="338.40" x2="436.12" y2="340.60" stroke="#1a1a1a" stroke-width="1.2"/>
<line x1="449.10" y1="338.40" x2="449.10" y2="341.80" stroke="#1a1a1a" stroke-width="1.2"/>
<text transform="translate(449.25,356.00)" font-size="10.4" font-weight="400" text-anchor="middle" fill="#1a1a1a" letter-spacing="0.3">240</text>
<line x1="462.08" y1="338.40" x2="462.08" y2="340.60" stroke="#1a1a1a" stroke-width="1.2"/>
<line x1="475.05" y1="338.40" x2="475.05" y2="341.80" stroke="#1a1a1a" stroke-width="1.2"/>
<text transform="translate(475.20,356.00)" font-size="10.4" font-weight="400" text-anchor="middle" fill="#1a1a1a" letter-spacing="0.3">300</text>
<line x1="488.02" y1="338.40" x2="488.02" y2="340.60" stroke="#1a1a1a" stroke-width="1.2"/>
<line x1="501.00" y1="338.40" x2="501.00" y2="341.80" stroke="#1a1a1a" stroke-width="1.2"/>
<text transform="translate(501.15,356.00)" font-size="10.4" font-weight="400" text-anchor="middle" fill="#1a1a1a" letter-spacing="0.3">360</text>
<text transform="translate(297.00,284.50) rotate(-90) scale(0.76,1)" font-size="12.2" font-weight="400" text-anchor="middle" fill="#1a1a1a" stroke="#1a1a1a" stroke-width="0.36">CD8/µL</text>
<text transform="translate(424.60,374.40) scale(0.725,1)" font-size="12.2" font-weight="400" text-anchor="middle" fill="#1a1a1a" stroke="#1a1a1a" stroke-width="0.36">Days post-transplant</text>
<line x1="357.90" y1="309.70" x2="357.90" y2="329.20" stroke="#a90832" stroke-width="1.15"/>
<line x1="355.50" y1="309.70" x2="360.30" y2="309.70" stroke="#a90832" stroke-width="1.4"/>
<line x1="355.50" y1="329.20" x2="360.30" y2="329.20" stroke="#a90832" stroke-width="1.4"/>
<line x1="370.70" y1="301.40" x2="370.70" y2="330.70" stroke="#a90832" stroke-width="1.15"/>
<line x1="368.30" y1="301.40" x2="373.10" y2="301.40" stroke="#a90832" stroke-width="1.4"/>
<line x1="368.30" y1="330.70" x2="373.10" y2="330.70" stroke="#a90832" stroke-width="1.4"/>
<line x1="388.20" y1="285.80" x2="388.20" y2="316.10" stroke="#a90832" stroke-width="1.15"/>
<line x1="385.80" y1="285.80" x2="390.60" y2="285.80" stroke="#a90832" stroke-width="1.4"/>
<line x1="385.80" y1="316.10" x2="390.60" y2="316.10" stroke="#a90832" stroke-width="1.4"/>
<line x1="422.40" y1="274.50" x2="422.40" y2="280.80" stroke="#a90832" stroke-width="1.15"/>
<line x1="420.00" y1="274.50" x2="424.80" y2="274.50" stroke="#a90832" stroke-width="1.4"/>
<line x1="420.00" y1="280.80" x2="424.80" y2="280.80" stroke="#a90832" stroke-width="1.4"/>
<line x1="461.80" y1="269.70" x2="461.80" y2="282.60" stroke="#a90832" stroke-width="1.15"/>
<line x1="459.40" y1="269.70" x2="464.20" y2="269.70" stroke="#a90832" stroke-width="1.4"/>
<line x1="459.40" y1="282.60" x2="464.20" y2="282.60" stroke="#a90832" stroke-width="1.4"/>
<line x1="503.20" y1="255.60" x2="503.20" y2="270.00" stroke="#a90832" stroke-width="1.15"/>
<line x1="500.80" y1="255.60" x2="505.60" y2="255.60" stroke="#a90832" stroke-width="1.4"/>
<line x1="500.80" y1="270.00" x2="505.60" y2="270.00" stroke="#a90832" stroke-width="1.4"/>
<path d="M357.90,319.00 L370.70,325.90 L388.20,295.70 L422.40,277.80 L461.80,275.50 L503.20,266.50" fill="none" stroke="#a90832" stroke-width="1.55" stroke-linejoin="round"/>
<rect x="355.80" y="316.90" width="4.2" height="4.2" fill="#a90832"/>
<rect x="368.60" y="323.80" width="4.2" height="4.2" fill="#a90832"/>
<rect x="386.10" y="293.60" width="4.2" height="4.2" fill="#a90832"/>
<rect x="420.30" y="275.70" width="4.2" height="4.2" fill="#a90832"/>
<rect x="459.70" y="273.40" width="4.2" height="4.2" fill="#a90832"/>
<rect x="501.10" y="264.40" width="4.2" height="4.2" fill="#a90832"/>
<line x1="357.90" y1="294.20" x2="357.90" y2="309.70" stroke="#1f4682" stroke-width="1.15"/>
<line x1="355.50" y1="294.20" x2="360.30" y2="294.20" stroke="#1f4682" stroke-width="1.4"/>
<line x1="355.50" y1="309.70" x2="360.30" y2="309.70" stroke="#1f4682" stroke-width="1.4"/>
<line x1="370.70" y1="279.00" x2="370.70" y2="310.30" stroke="#1f4682" stroke-width="1.15"/>
<line x1="368.30" y1="279.00" x2="373.10" y2="279.00" stroke="#1f4682" stroke-width="1.4"/>
<line x1="368.30" y1="310.30" x2="373.10" y2="310.30" stroke="#1f4682" stroke-width="1.4"/>
<line x1="388.20" y1="282.50" x2="388.20" y2="307.40" stroke="#1f4682" stroke-width="1.15"/>
<line x1="385.80" y1="282.50" x2="390.60" y2="282.50" stroke="#1f4682" stroke-width="1.4"/>
<line x1="385.80" y1="307.40" x2="390.60" y2="307.40" stroke="#1f4682" stroke-width="1.4"/>
<line x1="422.40" y1="274.50" x2="422.40" y2="291.80" stroke="#1f4682" stroke-width="1.15"/>
<line x1="420.00" y1="274.50" x2="424.80" y2="274.50" stroke="#1f4682" stroke-width="1.4"/>
<line x1="420.00" y1="291.80" x2="424.80" y2="291.80" stroke="#1f4682" stroke-width="1.4"/>
<line x1="461.80" y1="263.00" x2="461.80" y2="282.00" stroke="#1f4682" stroke-width="1.15"/>
<line x1="459.40" y1="263.00" x2="464.20" y2="263.00" stroke="#1f4682" stroke-width="1.4"/>
<line x1="459.40" y1="282.00" x2="464.20" y2="282.00" stroke="#1f4682" stroke-width="1.4"/>
<line x1="503.20" y1="263.90" x2="503.20" y2="277.30" stroke="#1f4682" stroke-width="1.15"/>
<line x1="500.80" y1="263.90" x2="505.60" y2="263.90" stroke="#1f4682" stroke-width="1.4"/>
<line x1="500.80" y1="277.30" x2="505.60" y2="277.30" stroke="#1f4682" stroke-width="1.4"/>
<path d="M357.90,303.90 L370.70,296.10 L388.20,291.80 L422.40,284.90 L461.80,275.50 L503.20,269.20" fill="none" stroke="#1f4682" stroke-width="1.55" stroke-linejoin="round"/>
<circle cx="357.90" cy="303.90" r="2.3" fill="#1f4682"/>
<circle cx="370.70" cy="296.10" r="2.3" fill="#1f4682"/>
<circle cx="388.20" cy="291.80" r="2.3" fill="#1f4682"/>
<circle cx="422.40" cy="284.90" r="2.3" fill="#1f4682"/>
<circle cx="461.80" cy="275.50" r="2.3" fill="#1f4682"/>
<circle cx="503.20" cy="269.20" r="2.3" fill="#1f4682"/>
<text transform="translate(358.10,293.30)" font-size="8.8" font-weight="400" text-anchor="middle" fill="#111">*</text>
<text transform="translate(369.05,278.30)" font-size="8.8" font-weight="400" text-anchor="middle" fill="#111">*</text>
<text transform="translate(372.75,278.30)" font-size="8.8" font-weight="400" text-anchor="middle" fill="#111">*</text>
<line x1="102.20" y1="395.40" x2="114.50" y2="395.40" stroke="#1f4682" stroke-width="1.5"/>
<circle cx="108.4" cy="395.4" r="2.0" fill="#1f4682"/>
<text transform="translate(118.40,398.40)" font-size="9.83" font-weight="400" text-anchor="start" fill="#1a1a1a">Low Alemtuzumab (&lt;0.58 mcg/L)</text>
<line x1="282.30" y1="395.60" x2="294.70" y2="395.60" stroke="#a90832" stroke-width="1.5"/>
<rect x="286.3" y="393.5" width="4.4" height="4.2" fill="#a90832"/>
<text transform="translate(299.00,398.40)" font-size="9.73" font-weight="400" text-anchor="start" fill="#1a1a1a">High Alemtuzumab (≥ 0.58)</text></svg></body></html>
